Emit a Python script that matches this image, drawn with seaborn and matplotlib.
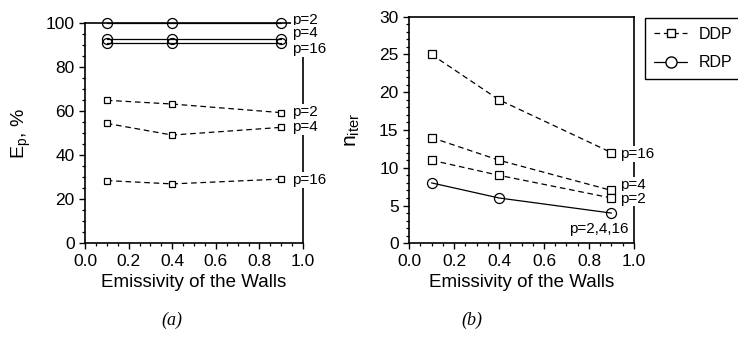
import matplotlib
matplotlib.use("Agg")
import matplotlib.pyplot as plt
from matplotlib.ticker import MultipleLocator
from matplotlib.lines import Line2D
import seaborn as sns
import pandas as pd

# ---------------- data ----------------
emissivity = [0.1, 0.4, 0.9]

# panel (a): parallel efficiency E_p, %
ep_rdp_p2 = [100, 100, 100]
ep_rdp_p4 = [93, 93, 93]
ep_rdp_p16 = [91, 91, 91]
ep_ddp_p2 = [65, 63.3, 59.4]
ep_ddp_p4 = [54.5, 49.2, 52.7]
ep_ddp_p16 = [28.5, 27, 29.2]

# panel (b): iterations n_iter
n_ddp_p16 = [25, 19, 12]
n_ddp_p4 = [14, 11, 7]
n_ddp_p2 = [11, 9, 6]
n_rdp_all = [8, 6, 4]

legend_labels = ["DDP", "RDP"]

# ---------------- style ----------------
sns.set_style("ticks")
plt.rcParams['font.family'] = ['Liberation Sans', 'DejaVu Sans']
plt.rcParams['mathtext.fontset'] = 'custom'
plt.rcParams['mathtext.rm'] = 'Liberation Sans'
plt.rcParams['mathtext.it'] = 'Liberation Sans:italic'
plt.rcParams['text.color'] = 'black'
plt.rcParams['axes.labelcolor'] = 'black'
plt.rcParams['xtick.color'] = 'black'
plt.rcParams['ytick.color'] = 'black'

fig = plt.figure(figsize=(7.38, 3.51), dpi=100)
axA = fig.add_axes([85/738, 1-243.3/351, 218/738, 220/351])
axB = fig.add_axes([409/738, 1-243.3/351, 225/738, 226.6/351])

dash = (0, (4.5, 3))
lw = 0.9


def draw(ax, y, kind, ms):
    df = pd.DataFrame({"x": emissivity, "y": y})
    if kind == "DDP":
        sns.lineplot(data=df, x="x", y="y", ax=ax, color="black", lw=lw,
                     linestyle=dash, marker="s", markersize=ms,
                     markerfacecolor="white", markeredgecolor="black",
                     markeredgewidth=0.9, clip_on=False, zorder=3)
    else:
        sns.lineplot(data=df, x="x", y="y", ax=ax, color="black", lw=lw,
                     linestyle="-", marker="o", markersize=ms,
                     markerfacecolor="none", markeredgecolor="black",
                     markeredgewidth=0.9, clip_on=False, zorder=3)


for y in (ep_rdp_p2, ep_rdp_p4, ep_rdp_p16):
    draw(axA, y, "RDP", 7.2)
for y in (ep_ddp_p2, ep_ddp_p4, ep_ddp_p16):
    draw(axA, y, "DDP", 4)

for y in (n_ddp_p16, n_ddp_p4, n_ddp_p2):
    draw(axB, y, "DDP", 5.5)
draw(axB, n_rdp_all, "RDP", 7.2)

for ax in (axA, axB):
    ax.set_xlim(0, 1)
    ax.xaxis.set_major_locator(MultipleLocator(0.2))
    ax.xaxis.set_minor_locator(MultipleLocator(0.05))
    ax.tick_params(which="major", direction="out", length=4.5, width=1.0,
                   labelsize=12.5, pad=3, color="black", labelcolor="black")
    ax.tick_params(which="minor", direction="out", length=2.2, width=0.9,
                   color="black")
    for s in ax.spines.values():
        s.set_linewidth(1.2)
        s.set_color("black")
        s.set_visible(True)
    ax.set_xlabel("Emissivity of the Walls", fontsize=13.5, labelpad=4)
    ax.xaxis.set_major_formatter(plt.FuncFormatter(lambda v, p: f"{v:.1f}"))

axA.set_ylim(0, 100)
axA.yaxis.set_major_locator(MultipleLocator(20))
axA.yaxis.set_minor_locator(MultipleLocator(5))
axA.set_ylabel(r"$\mathrm{E_p}$, %", fontsize=14, labelpad=9)

axB.set_ylim(0, 30)
axB.yaxis.set_major_locator(MultipleLocator(5))
axB.yaxis.set_minor_locator(MultipleLocator(1))
axB.set_ylabel(r"$\mathrm{n_{iter}}$", fontsize=15, labelpad=12)

box = dict(facecolor="white", edgecolor="none", pad=0.5)
lab_fs = 11
for txt, yy in (("p=2", 101.5), ("p=4", 95.6), ("p=16", 88.3),
                ("p=2", 59.7), ("p=4", 52.9), ("p=16", 28.8)):
    axA.text(0.95, yy, txt, fontsize=lab_fs, va="center", ha="left",
             bbox=box, clip_on=False, zorder=5)

for txt, xx, yy in (("p=16", 0.94, 11.8), ("p=4", 0.94, 7.7),
                    ("p=2", 0.94, 5.9), ("p=2,4,16", 0.71, 1.9)):
    axB.text(xx, yy, txt, fontsize=lab_fs, va="center", ha="left",
             bbox=box, clip_on=False, zorder=5)

handles = [
    Line2D([], [], color="black", lw=lw, linestyle=dash, marker="s",
           markersize=6, markerfacecolor="white", markeredgecolor="black"),
    Line2D([], [], color="black", lw=lw, linestyle="-", marker="o",
           markersize=8, markerfacecolor="white", markeredgecolor="black"),
]
leg = fig.legend(handles, legend_labels, loc="upper left",
                 bbox_to_anchor=(645/738, 1-18/351), fontsize=11.5,
                 frameon=True, fancybox=False, framealpha=1,
                 edgecolor="black", handlelength=2.1, borderpad=0.55,
                 labelspacing=0.85, handletextpad=0.7, borderaxespad=0)
leg.get_frame().set_linewidth(1.0)
for t in leg.get_texts():
    t.set_color("black")

fig.text(172/738, 1-320/351, "(a)", fontsize=13, style="italic",
         family="Liberation Serif", ha="center", va="center")
fig.text(472/738, 1-320/351, "(b)", fontsize=13, style="italic",
         family="Liberation Serif", ha="center", va="center")

fig.savefig("out.png", dpi=100)
